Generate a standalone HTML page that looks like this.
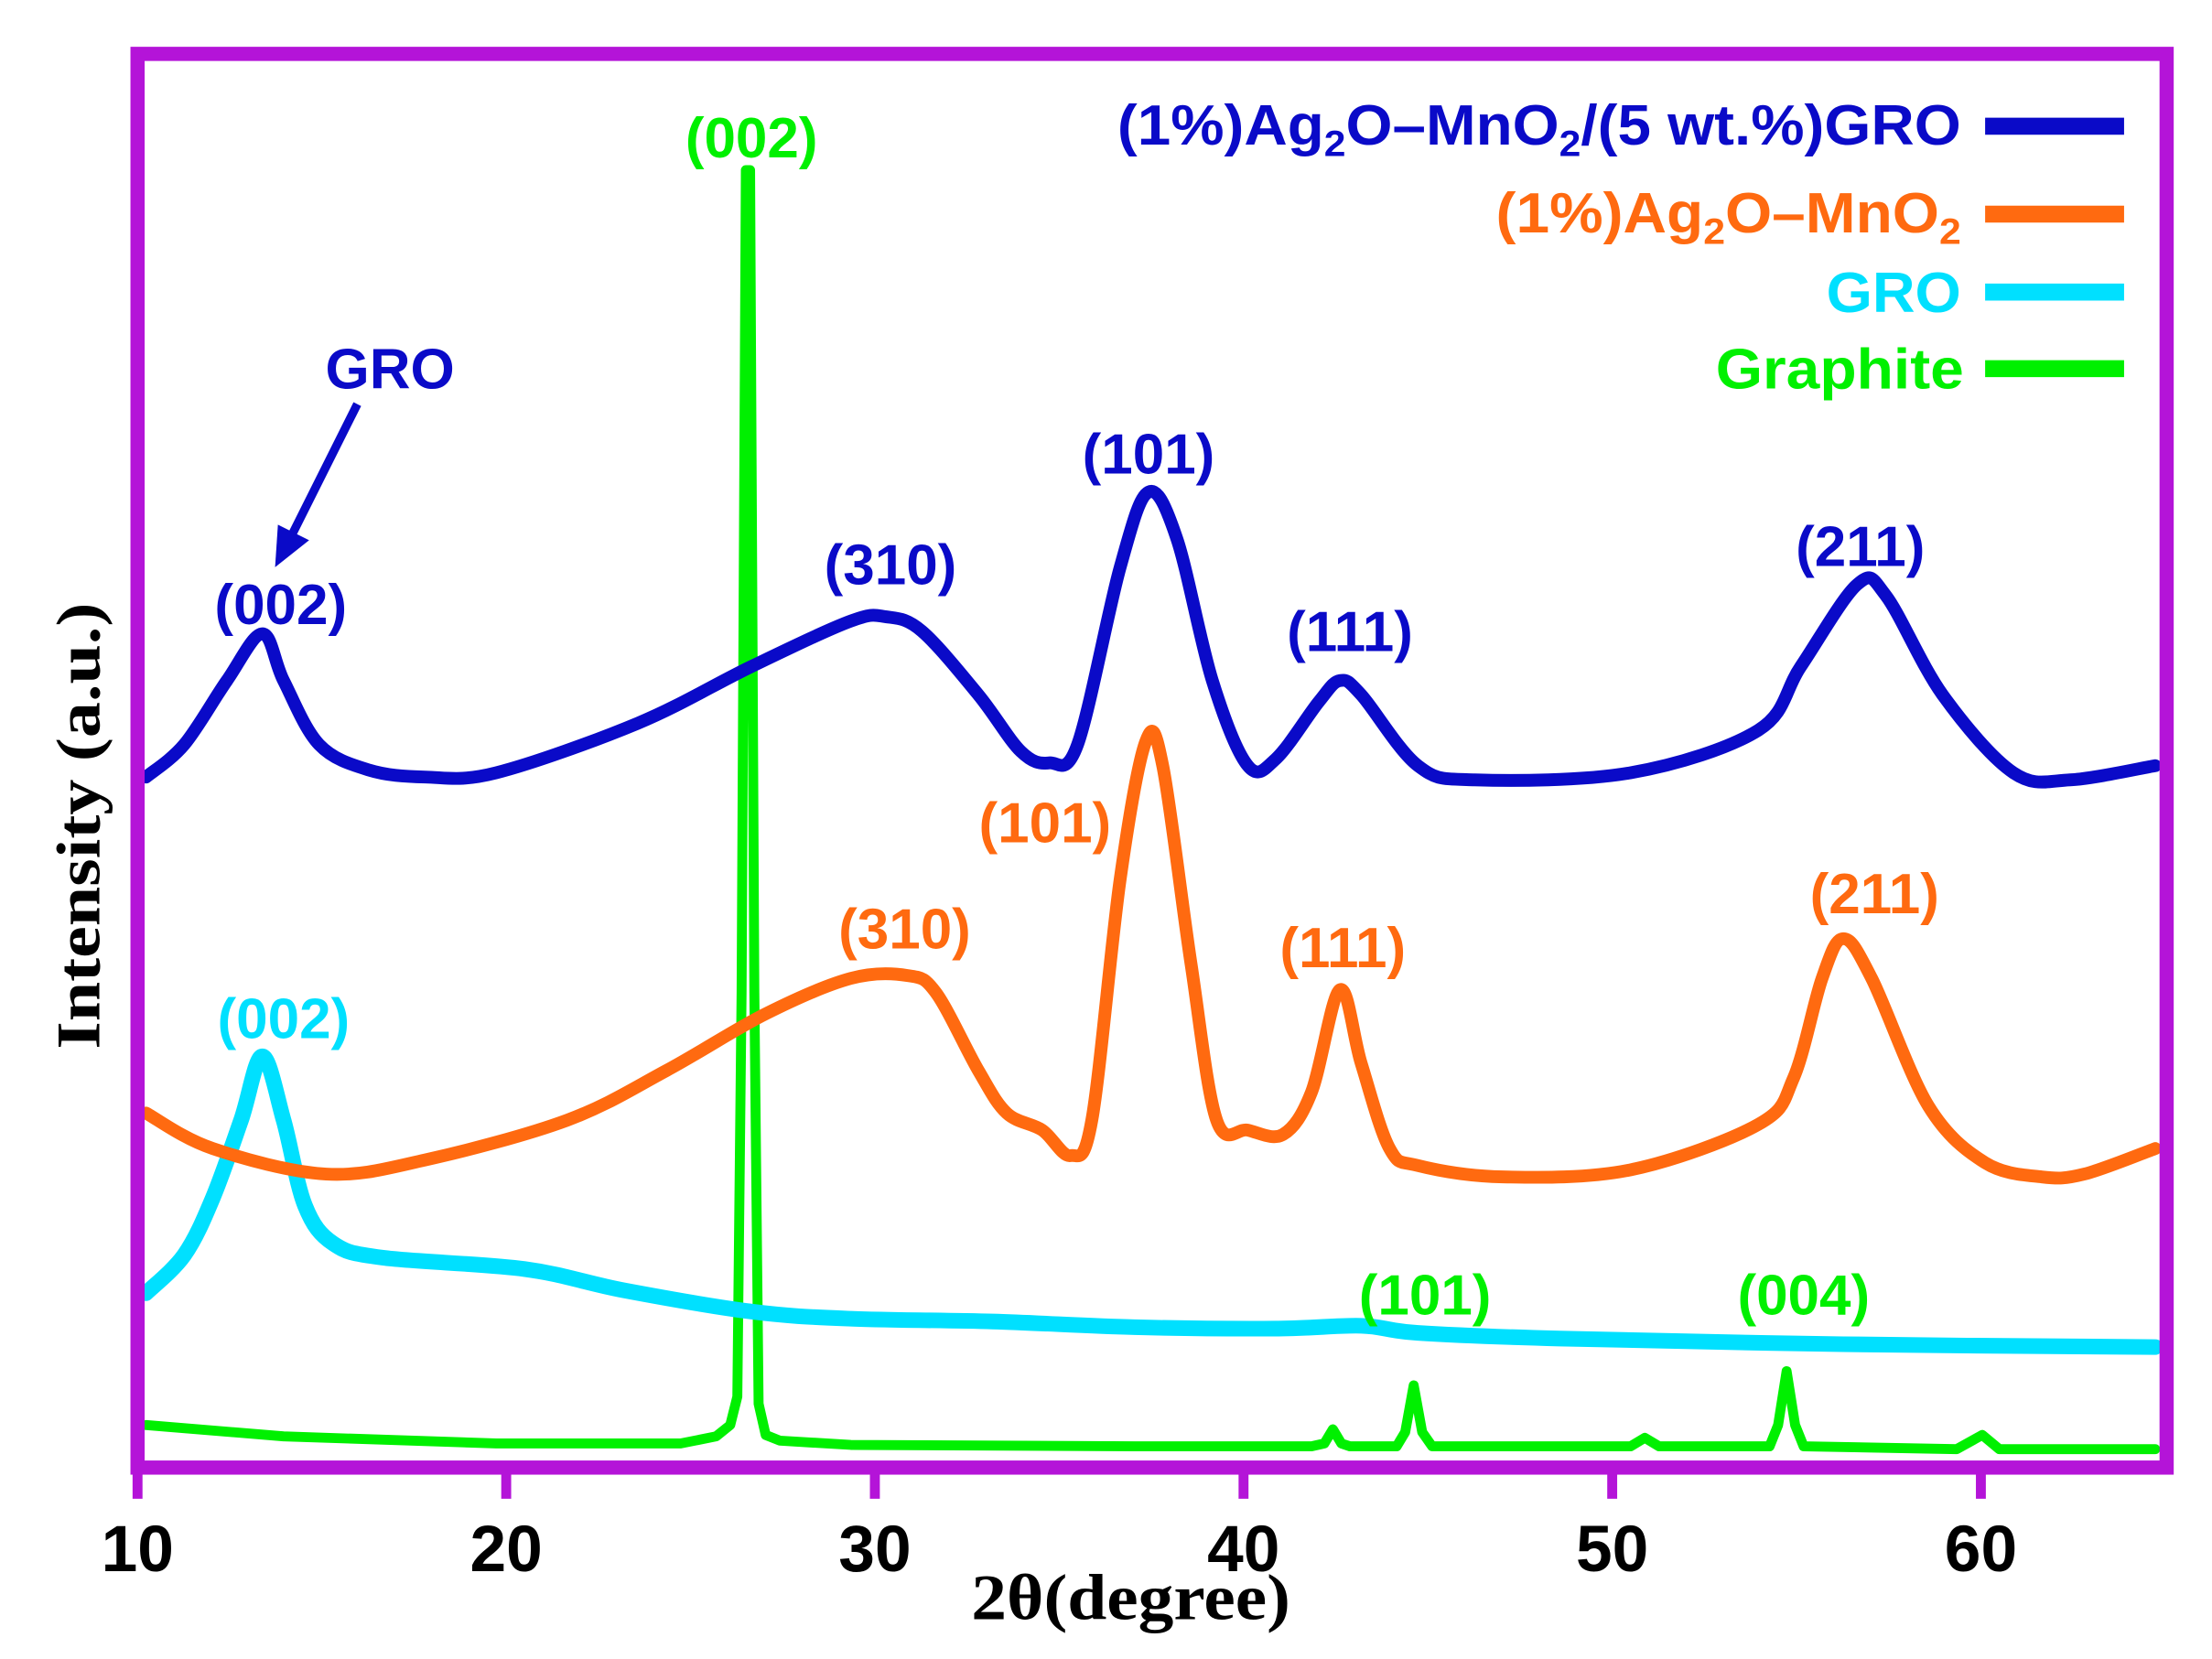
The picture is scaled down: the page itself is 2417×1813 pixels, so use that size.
<!DOCTYPE html>
<html><head><meta charset="utf-8"><style>html,body{margin:0;padding:0;background:#fff}svg{display:block}</style></head>
<body>
<svg id="s" xmlns="http://www.w3.org/2000/svg" width="2417" height="1813" viewBox="0 0 1560 1170" preserveAspectRatio="none">
<rect x="0" y="0" width="1560" height="1170" fill="#fff"/>
<g fill="none" stroke-linejoin="round" stroke-linecap="round">
<polyline stroke="#00f000" stroke-width="7" points="103,1005 200,1013 350,1018 480,1018 505,1013 515,1005 520,985 523,700 526,120 529,120 532,700 535,990 540,1012 550,1016 600,1019 800,1020 925,1020 934,1018 940,1008 946,1018 952,1020 985,1020 991,1010 997,977 1003,1010 1010,1020 1150,1020 1160,1014 1170,1020 1248,1020 1254,1005 1260,967 1266,1005 1272,1020 1380,1022 1398,1012 1410,1022 1520,1022"/>
<polyline class="sm" stroke="#00e0ff" stroke-width="11" points="103,912 130,885 150,845 170,790 185,745 200,790 215,850 235,877 270,887 370,895 440,910 530,925 600,930 700,932 800,936 900,937 960,935 1000,940 1100,944 1300,948 1520,950"/>
<polyline class="sm" stroke="#ff6a10" stroke-width="9" points="103,785 150,810 230,828 300,818 400,790 470,755 540,715 600,690 640,688 660,700 690,755 710,785 735,797 755,815 770,790 790,620 808,523 820,540 840,680 858,790 880,797 905,800 925,770 945,698 960,750 980,810 1000,822 1060,830 1150,825 1240,793 1265,760 1285,690 1300,662 1320,690 1360,780 1400,820 1440,830 1470,828 1520,810"/>
<polyline class="sm" stroke="#0a0ac8" stroke-width="9" points="103,548 130,525 160,480 185,447 200,480 225,525 260,543 300,548 350,545 450,510 530,470 600,438 625,435 650,445 690,490 720,530 740,538 760,525 790,400 810,347 830,380 855,480 880,540 900,535 930,495 945,480 960,490 1000,540 1040,550 1150,545 1240,515 1270,470 1310,412 1330,420 1370,490 1420,545 1460,550 1520,540"/>
</g>
<g stroke-width="12">
<line x1="1400" y1="89" x2="1498" y2="89" stroke="#0a0ac8"/>
<line x1="1400" y1="151" x2="1498" y2="151" stroke="#ff6a10"/>
<line x1="1400" y1="206" x2="1498" y2="206" stroke="#00e0ff"/>
<line x1="1400" y1="260" x2="1498" y2="260" stroke="#00f000"/>
</g>
<g font-family="Liberation Sans, Arial, sans-serif" font-weight="bold" font-size="40">
<text x="1383" y="102" text-anchor="end" fill="#0a0ac8" textLength="595" lengthAdjust="spacingAndGlyphs">(1%)Ag<tspan font-size="26" dy="8">2</tspan><tspan dy="-8">O–MnO</tspan><tspan font-size="26" dy="8">2</tspan><tspan dy="-8">/(5 wt.%)GRO</tspan></text>
<text x="1383" y="164" text-anchor="end" fill="#ff6a10" textLength="328" lengthAdjust="spacingAndGlyphs">(1%)Ag<tspan font-size="26" dy="8">2</tspan><tspan dy="-8">O–MnO</tspan><tspan font-size="26" dy="8">2</tspan></text>
<text x="1383" y="220" text-anchor="end" fill="#00e0ff" textLength="95" lengthAdjust="spacingAndGlyphs">GRO</text>
<text x="1385" y="274" text-anchor="end" fill="#00f000" textLength="175" lengthAdjust="spacingAndGlyphs">Graphite</text>
</g>
<g font-family="Liberation Sans, Arial, sans-serif" font-weight="bold" font-size="40" text-anchor="middle">
<text x="198" y="440" fill="#0a0ac8">(002)</text>
<text x="275" y="274" fill="#0a0ac8">GRO</text>
<text x="628" y="412" fill="#0a0ac8">(310)</text>
<text x="810" y="334" fill="#0a0ac8">(101)</text>
<text x="952" y="459" fill="#0a0ac8">(111)</text>
<text x="1312" y="399" fill="#0a0ac8">(211)</text>
<text x="737" y="594" fill="#ff6a10">(101)</text>
<text x="638" y="669" fill="#ff6a10">(310)</text>
<text x="947" y="682" fill="#ff6a10">(111)</text>
<text x="1322" y="644" fill="#ff6a10">(211)</text>
<text x="200" y="732" fill="#00e0ff">(002)</text>
<text x="530" y="111" fill="#00f000">(002)</text>
<text x="1005" y="927" fill="#00f000">(101)</text>
<text x="1272" y="927" fill="#00f000">(004)</text>
</g>
<line x1="252" y1="285" x2="206" y2="377" stroke="#0a0ac8" stroke-width="6"/>
<polygon points="194,400 196,370 218,381" fill="#0a0ac8"/>
<rect x="97" y="38" width="1431" height="997" fill="none" stroke="#b414d8" stroke-width="10"/>
<g stroke="#b414d8" stroke-width="7">
<line x1="97" y1="1035" x2="97" y2="1057"/>
<line x1="357" y1="1035" x2="357" y2="1057"/>
<line x1="617" y1="1035" x2="617" y2="1057"/>
<line x1="877" y1="1035" x2="877" y2="1057"/>
<line x1="1137" y1="1035" x2="1137" y2="1057"/>
<line x1="1397" y1="1035" x2="1397" y2="1057"/>
</g>
<g font-family="Liberation Sans, Arial, sans-serif" font-weight="bold" font-size="46" text-anchor="middle" fill="#000">
<text x="97" y="1108">10</text>
<text x="357" y="1108">20</text>
<text x="617" y="1108">30</text>
<text x="877" y="1108">40</text>
<text x="1137" y="1108">50</text>
<text x="1397" y="1108">60</text>
</g>
<text x="685" y="1142" font-family="Liberation Serif, Times New Roman, serif" font-weight="bold" font-size="46" fill="#000" textLength="225" lengthAdjust="spacingAndGlyphs">2θ(degree)</text>
<text transform="translate(70,740) rotate(-90)" font-family="Liberation Serif, Times New Roman, serif" font-weight="bold" font-size="44" fill="#000" textLength="315" lengthAdjust="spacingAndGlyphs">Intensity (a.u.)</text>
</svg>
<script>
(function(){
var ns="http://www.w3.org/2000/svg";
document.querySelectorAll("polyline.sm").forEach(function(pl){
 var pts=pl.getAttribute("points").trim().split(/\s+/).map(function(s){return s.split(",").map(Number);});
 var d="M"+pts[0][0]+","+pts[0][1];
 for(var i=0;i<pts.length-1;i++){
  var p0=pts[i-1]||pts[i],p1=pts[i],p2=pts[i+1],p3=pts[i+2]||p2,t=6;
  d+=" C"+(p1[0]+(p2[0]-p0[0])/t)+","+(p1[1]+(p2[1]-p0[1])/t)+" "+(p2[0]-(p3[0]-p1[0])/t)+","+(p2[1]-(p3[1]-p1[1])/t)+" "+p2[0]+","+p2[1];
 }
 var p=document.createElementNS(ns,"path");
 p.setAttribute("d",d);p.setAttribute("stroke",pl.getAttribute("stroke"));p.setAttribute("stroke-width",pl.getAttribute("stroke-width"));p.setAttribute("fill","none");
 pl.parentNode.replaceChild(p,pl);
});
})();
</script>
</body></html>
